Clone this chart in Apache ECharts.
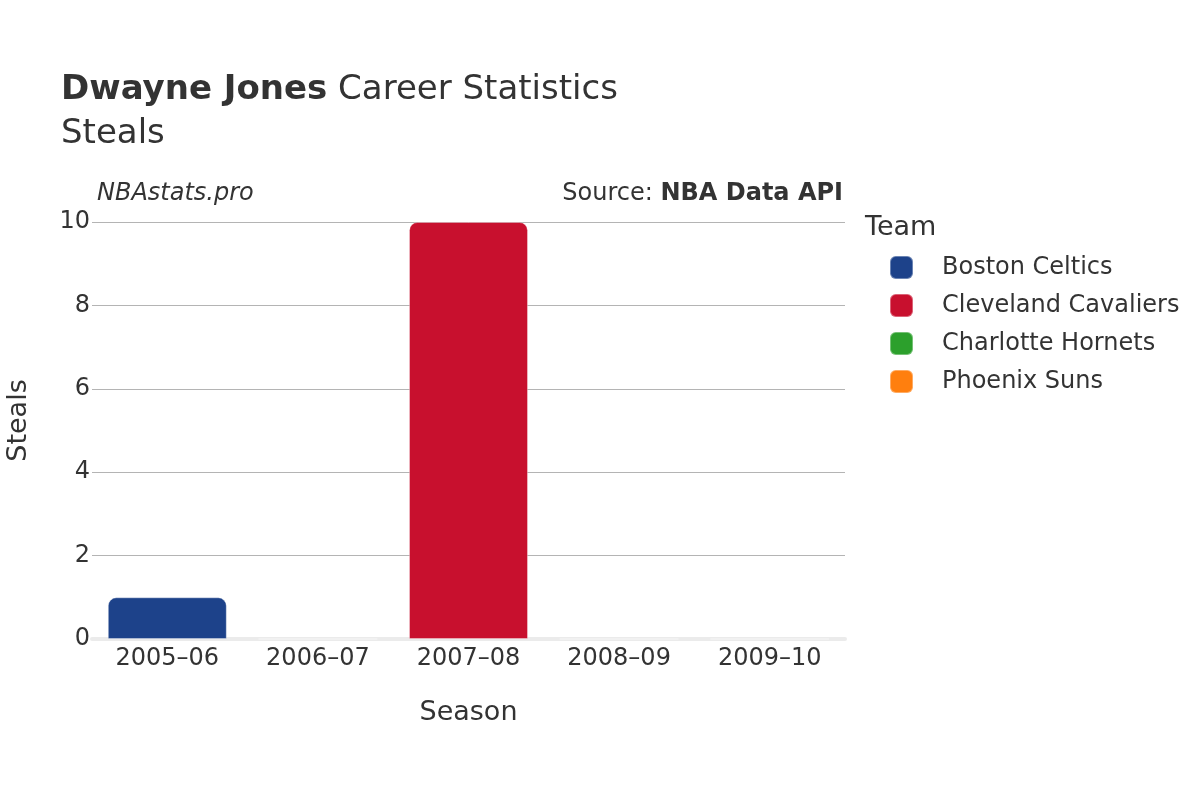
<!DOCTYPE html>
<html>
<head>
<meta charset="utf-8">
<script src="https://cdn.jsdelivr.net/npm/echarts@6/dist/echarts.min.js"></script>
<style>html,body{margin:0;padding:0;background:#fff}#c{width:1200px;height:800px}</style>
</head>
<body>
<div id="c"></div>
<script>
const seasons = ['2005–06', '2006–07', '2007–08', '2008–09', '2009–10'];
const teams = ['Boston Celtics', 'Cleveland Cavaliers', 'Charlotte Hornets', 'Phoenix Suns'];
const teamColors = ['#1d428a', '#c8102e', '#2ca02c', '#ff7f0e'];
const bostonSteals = [1, 0, null, null, null];
const clevelandSteals = [null, null, 10, null, null];
const charlotteSteals = [null, null, null, 0, null];
const phoenixSteals = [null, null, null, null, 0];
const yTicks = [0, 2, 4, 6, 8, 10];

const seriesData = [bostonSteals, clevelandSteals, charlotteSteals, phoenixSteals];
const font = 'DejaVu Sans';
const chart = echarts.init(document.getElementById('c'), null, {renderer: 'canvas'});
chart.setOption({
  backgroundColor: '#fff',
  textStyle: {fontFamily: font, color: '#333'},
  title: [{
    text: '{b|Dwayne Jones}{n| Career Statistics}\n{n|Steals}',
    left: 56, top: 63,
    textStyle: {
      fontWeight: 'normal', fontSize: 34,
      rich: {
        b: {fontFamily: font, fontSize: 34, fontWeight: 'bold', color: '#333', lineHeight: 44},
        n: {fontFamily: font, fontSize: 34, fontWeight: 'normal', color: '#333', lineHeight: 44}
      }
    }
  }, {
    text: 'NBAstats.pro', left: 92, top: 177,
    textStyle: {fontFamily: font, fontSize: 24, fontStyle: 'italic', fontWeight: 'normal', color: '#333'}
  }, {
    text: '{n|Source: }{b|NBA Data API}', right: 352, top: 177,
    textStyle: {fontWeight: 'normal', rich: {
      n: {fontFamily: font, fontSize: 24, fontWeight: 'normal', color: '#333'},
      b: {fontFamily: font, fontSize: 24, fontWeight: 'bold', color: '#333'}
    }}
  }, {
    text: 'Team', left: 860, top: 209,
    textStyle: {fontFamily: font, fontSize: 27, fontWeight: 'normal', color: '#333'}
  }],
  legend: {
    orient: 'vertical', left: 884, top: 250,
    itemWidth: 23, itemHeight: 23, itemGap: 13,
    icon: 'roundRect',
    textStyle: {fontFamily: font, fontSize: 24, color: '#333', padding: [0, 0, 0, 24]},
    data: teams
  },
  grid: {left: 92, right: 355, top: 222, bottom: 161, containLabel: false, outerBoundsMode: 'none'},
  xAxis: {
    type: 'category', data: seasons,
    name: 'Season', nameLocation: 'middle', nameGap: 60,
    nameTextStyle: {fontFamily: font, fontSize: 27, color: '#333'},
    axisLine: {show: true, lineStyle: {color: '#ebebeb', width: 4}},
    axisTick: {show: false},
    axisLabel: {fontFamily: font, fontSize: 24, color: '#333', margin: 8}
  },
  yAxis: {
    type: 'value', min: 0, max: 10, interval: 2,
    name: 'Steals', nameLocation: 'middle', nameGap: 60,
    nameTextStyle: {fontFamily: font, fontSize: 27, color: '#333', padding: [0, 0, 0, 20]},
    axisLine: {show: false}, axisTick: {show: false},
    axisLabel: {fontFamily: font, fontSize: 24, color: '#333', margin: 2,
      formatter: v => yTicks.includes(v) ? String(v) : ''},
    splitLine: {lineStyle: {color: '#b4b4b4', width: 1}}
  },
  series: teams.map((t, i) => ({
    name: t, type: 'bar', stack: 'all',
    data: seriesData[i],
    barWidth: '79%',
    itemStyle: {color: teamColors[i], borderRadius: [8, 8, 0, 0], borderColor: 'rgba(255,255,255,0.35)', borderWidth: 1}
  }))
});
</script>
</body>
</html>
